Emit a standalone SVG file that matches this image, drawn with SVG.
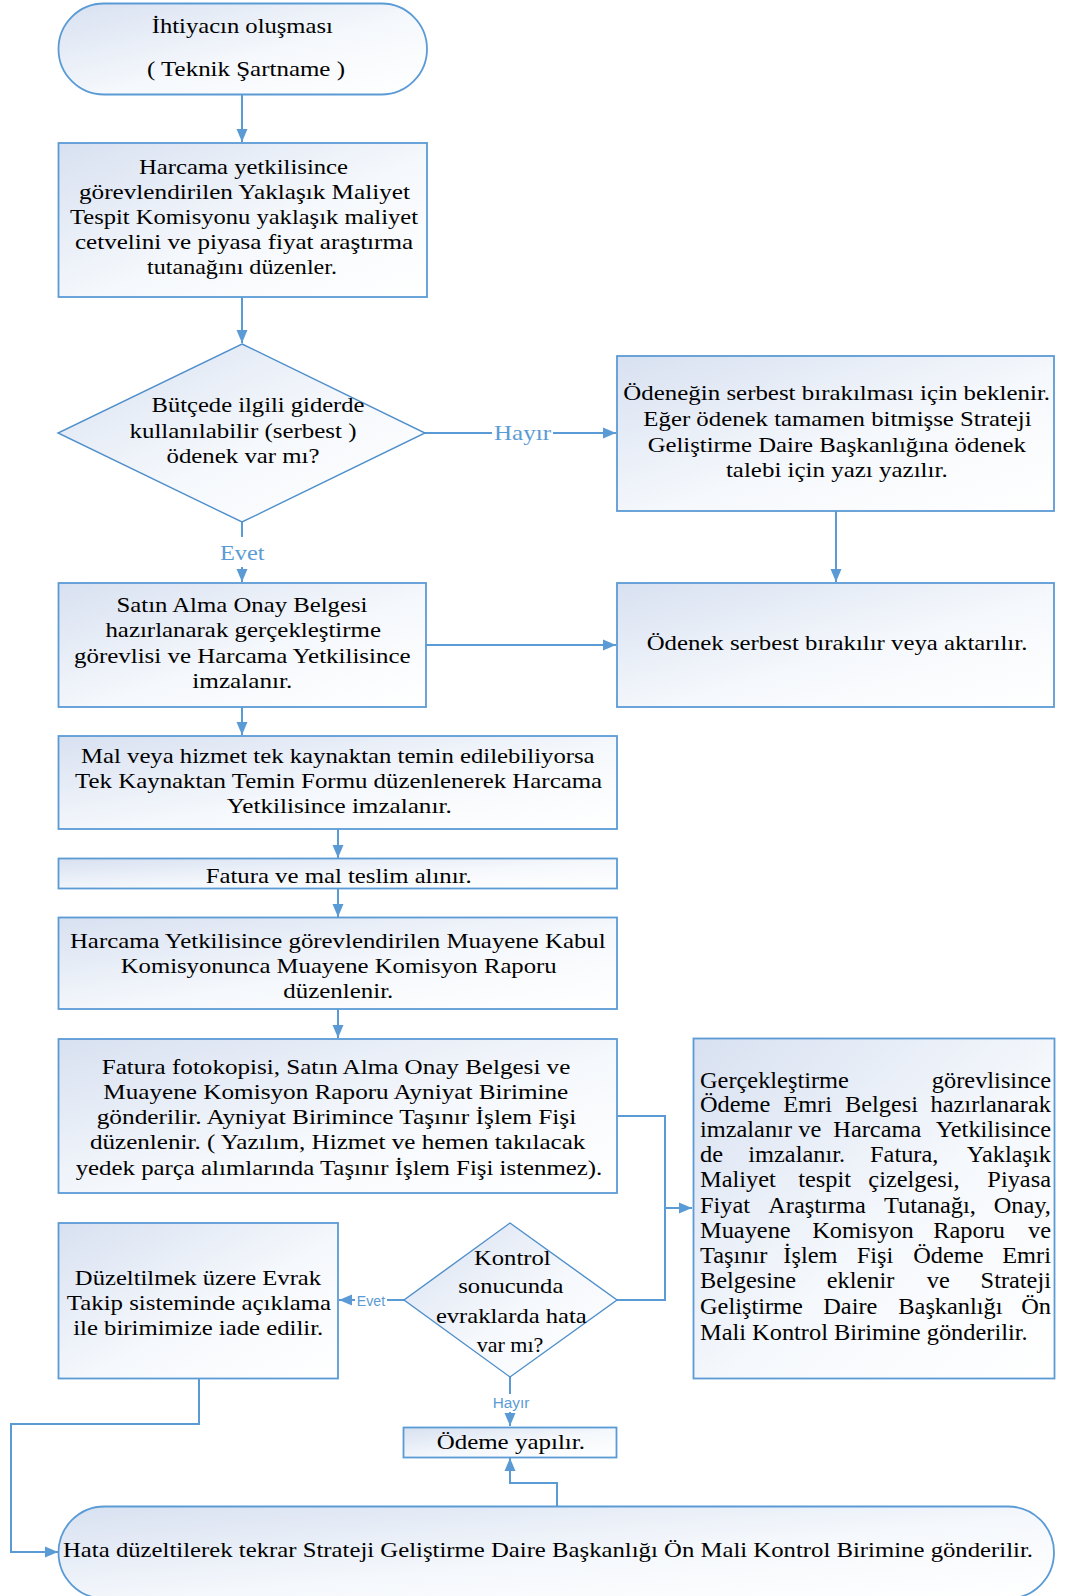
<svg xmlns="http://www.w3.org/2000/svg" width="1067" height="1596" viewBox="0 0 1067 1596">
  <defs>
    <linearGradient id="fillGrad" x1="0" y1="0" x2="1" y2="1">
      <stop offset="0" stop-color="#D8E1F1"/>
      <stop offset="0.55" stop-color="#F5F8FC"/>
      <stop offset="1" stop-color="#FFFFFF"/>
    </linearGradient>
    <marker id="arrow" markerUnits="userSpaceOnUse" markerWidth="14" markerHeight="12" refX="13" refY="6" orient="auto">
      <path d="M0,0.5 L13,6 L0,11.5 Z" fill="#5B9BD5"/>
    </marker>
    <style>
      .node { fill: url(#fillGrad); stroke: #5B9BD5; stroke-width: 1.8; }
      .dia { fill: url(#fillGrad); stroke: #4F8FCB; stroke-width: 1.4; }
      .t { font-family: "Liberation Serif", "Times New Roman", serif; font-size: 22px; fill: #000; text-anchor: middle; }
      .tj { font-family: "Liberation Serif", "Times New Roman", serif; font-size: 23px; fill: #000; }
      .conn { fill: none; stroke: #5B9BD5; stroke-width: 2; }
      .arr { marker-end: url(#arrow); }
      .lbl { font-family: "Liberation Serif", "Times New Roman", serif; font-size: 22px; fill: #5B9BD5; text-anchor: middle; }
      .slbl { font-family: "Liberation Sans", Arial, sans-serif; font-size: 14px; fill: #5B9BD5; text-anchor: middle; }
      .bg { fill: #FFFFFF; }
    </style>
  </defs>
  <rect width="1067" height="1596" fill="#FFFFFF"/>

  <!-- connectors -->
  <g id="connectors">
    <path class="conn arr" d="M242,95 V142"/>
    <path class="conn arr" d="M242,297 V343"/>
    <path class="conn arr" d="M424,433 H616"/>
    <path class="conn arr" d="M242,522 V582"/>
    <path class="conn arr" d="M836,511 V582"/>
    <path class="conn arr" d="M426,645 H616"/>
    <path class="conn arr" d="M242,707 V735"/>
    <path class="conn arr" d="M338,829 V858"/>
    <path class="conn arr" d="M338,889 V917"/>
    <path class="conn arr" d="M338,1009 V1038"/>
    <path class="conn arr" d="M617,1116 H665 V1208 H692"/>
    <path class="conn" d="M617,1300 H665 V1208"/>
    <path class="conn arr" d="M404,1300 H339"/>
    <path class="conn arr" d="M510,1377 V1426"/>
    <path class="conn arr" d="M199,1379 V1424 H11 V1552 H58"/>
    <path class="conn arr" d="M557,1506 V1483 H510 V1458"/>

    <!-- branch labels -->
    <rect class="bg" x="492" y="420" width="61" height="26"/>
    <text class="lbl" x="522.5" y="440" textLength="57" lengthAdjust="spacingAndGlyphs">Hayır</text>
    <rect class="bg" x="216" y="537" width="52" height="30"/>
    <text class="lbl" x="242.3" y="560" textLength="44.6" lengthAdjust="spacingAndGlyphs">Evet</text>
    <rect class="bg" x="355" y="1292" width="32" height="18"/>
    <text class="slbl" x="371" y="1306" textLength="28.3" lengthAdjust="spacingAndGlyphs">Evet</text>
    <rect class="bg" x="491" y="1394" width="40" height="18"/>
    <text class="slbl" x="511" y="1408.3" textLength="36.7" lengthAdjust="spacingAndGlyphs">Hayır</text>
  </g>

  <!-- start -->
  <g id="n-ihtiyac">
    <rect class="node" x="58.5" y="3.5" width="368.5" height="91" rx="45.5" ry="45.5"/>
    <text class="t" font-size="20" x="242.3" y="33" textLength="181" lengthAdjust="spacingAndGlyphs">İhtiyacın oluşması</text>
    <text class="t" font-size="20" x="246" y="76" textLength="198" lengthAdjust="spacingAndGlyphs">( Teknik Şartname )</text>
  </g>

  <g id="n-maliyet">
    <rect class="node" x="58.5" y="143" width="368.5" height="154"/>
    <text class="t" font-size="21" x="243.5" y="174" textLength="209" lengthAdjust="spacingAndGlyphs">Harcama yetkilisince</text>
    <text class="t" font-size="21" x="244.5" y="198.5" textLength="331" lengthAdjust="spacingAndGlyphs">görevlendirilen Yaklaşık Maliyet</text>
    <text class="t" font-size="21" x="244" y="223.5" textLength="348" lengthAdjust="spacingAndGlyphs">Tespit Komisyonu yaklaşık maliyet</text>
    <text class="t" font-size="21" x="244" y="249" textLength="338" lengthAdjust="spacingAndGlyphs">cetvelini ve piyasa fiyat araştırma</text>
    <text class="t" font-size="21" x="242" y="274" textLength="190" lengthAdjust="spacingAndGlyphs">tutanağını düzenler.</text>
  </g>

  <g id="n-butce">
    <polygon class="dia" points="242,344 425,433 242,522 58,433"/>
    <text class="t" font-size="21" x="258" y="412" textLength="213" lengthAdjust="spacingAndGlyphs">Bütçede ilgili giderde</text>
    <text class="t" font-size="21" x="243" y="438" textLength="227" lengthAdjust="spacingAndGlyphs">kullanılabilir (serbest )</text>
    <text class="t" font-size="21" x="243" y="463" textLength="153" lengthAdjust="spacingAndGlyphs">ödenek var mı?</text>
  </g>

  <g id="n-bekle">
    <rect class="node" x="617" y="356" width="437" height="155"/>
    <text class="t" x="836.7" y="400" textLength="426.7" lengthAdjust="spacingAndGlyphs">Ödeneğin serbest bırakılması için beklenir.</text>
    <text class="t" x="837.5" y="426" textLength="388.3" lengthAdjust="spacingAndGlyphs">Eğer ödenek tamamen bitmişse Strateji</text>
    <text class="t" x="836.8" y="451.5" textLength="378.3" lengthAdjust="spacingAndGlyphs">Geliştirme Daire Başkanlığına ödenek</text>
    <text class="t" x="836.8" y="476.7" textLength="221.7" lengthAdjust="spacingAndGlyphs">talebi için yazı yazılır.</text>
  </g>

  <g id="n-onay">
    <rect class="node" x="58.5" y="583" width="367.5" height="124"/>
    <text class="t" x="242" y="611.5" textLength="251" lengthAdjust="spacingAndGlyphs">Satın Alma Onay Belgesi</text>
    <text class="t" x="243.2" y="637" textLength="275.5" lengthAdjust="spacingAndGlyphs">hazırlanarak gerçekleştirme</text>
    <text class="t" x="242.3" y="662.5" textLength="336.7" lengthAdjust="spacingAndGlyphs">görevlisi ve Harcama Yetkilisince</text>
    <text class="t" x="242.3" y="688" textLength="100" lengthAdjust="spacingAndGlyphs">imzalanır.</text>
  </g>

  <g id="n-aktar">
    <rect class="node" x="617" y="583" width="437" height="124"/>
    <text class="t" x="837" y="650" textLength="380.7" lengthAdjust="spacingAndGlyphs">Ödenek serbest bırakılır veya aktarılır.</text>
  </g>

  <g id="n-tekkaynak">
    <rect class="node" x="58.5" y="736" width="558.5" height="93"/>
    <text class="t" font-size="22.5" x="337.8" y="762.7" textLength="513.6" lengthAdjust="spacingAndGlyphs">Mal veya hizmet tek kaynaktan temin edilebiliyorsa</text>
    <text class="t" font-size="22.5" x="338.6" y="788.3" textLength="527" lengthAdjust="spacingAndGlyphs">Tek Kaynaktan Temin Formu düzenlenerek Harcama</text>
    <text class="t" font-size="22.5" x="339.2" y="813.3" textLength="225" lengthAdjust="spacingAndGlyphs">Yetkilisince imzalanır.</text>
  </g>

  <g id="n-teslim">
    <rect class="node" x="58.5" y="858.5" width="558.5" height="30"/>
    <text class="t" font-size="23" x="338.7" y="883.3" textLength="266" lengthAdjust="spacingAndGlyphs">Fatura ve mal teslim alınır.</text>
  </g>

  <g id="n-muayene">
    <rect class="node" x="58.5" y="917.5" width="558.5" height="91.5"/>
    <text class="t" font-size="22.5" x="337.8" y="947.7" textLength="535.7" lengthAdjust="spacingAndGlyphs">Harcama Yetkilisince görevlendirilen Muayene Kabul</text>
    <text class="t" font-size="22.5" x="338.7" y="972.7" textLength="436" lengthAdjust="spacingAndGlyphs">Komisyonunca Muayene Komisyon Raporu</text>
    <text class="t" font-size="22.5" x="338.3" y="997.7" textLength="110" lengthAdjust="spacingAndGlyphs">düzenlenir.</text>
  </g>

  <g id="n-ayniyat">
    <rect class="node" x="58.5" y="1039" width="558.5" height="154"/>
    <text class="t" x="336" y="1074" textLength="468.6" lengthAdjust="spacingAndGlyphs">Fatura fotokopisi, Satın Alma Onay Belgesi ve</text>
    <text class="t" x="335.8" y="1099.3" textLength="465" lengthAdjust="spacingAndGlyphs">Muayene Komisyon Raporu Ayniyat Birimine</text>
    <text class="t" x="336.5" y="1124.3" textLength="479.6" lengthAdjust="spacingAndGlyphs">gönderilir. Ayniyat Birimince Taşınır İşlem Fişi</text>
    <text class="t" x="337.7" y="1149.3" textLength="495.5" lengthAdjust="spacingAndGlyphs">düzenlenir. ( Yazılım, Hizmet ve hemen takılacak</text>
    <text class="t" x="339" y="1175" textLength="526.7" lengthAdjust="spacingAndGlyphs">yedek parça alımlarında Taşınır İşlem Fişi istenmez).</text>
  </g>

  <g id="n-odeme-emri">
    <rect class="node" x="693.5" y="1038.5" width="361" height="340"/>
    <g transform="translate(700 0) scale(1.06 1)">
      <text class="tj" y="1088.3"><tspan x="0">Gerçekleştirme</tspan><tspan x="331.1" text-anchor="end">görevlisince</tspan></text>
      <text class="tj" y="1111.7"><tspan x="0">Ödeme</tspan><tspan x="78.6">Emri</tspan><tspan x="136.8">Belgesi</tspan><tspan x="331.1" text-anchor="end">hazırlanarak</tspan></text>
      <text class="tj" y="1136.7"><tspan x="0">imzalanır</tspan><tspan x="92.7">ve</tspan><tspan x="125.8">Harcama</tspan><tspan x="331.1" text-anchor="end">Yetkilisince</tspan></text>
      <text class="tj" y="1161.7"><tspan x="0">de</tspan><tspan x="45.6">imzalanır.</tspan><tspan x="160.4">Fatura,</tspan><tspan x="331.1" text-anchor="end">Yaklaşık</tspan></text>
      <text class="tj" y="1186.7"><tspan x="0">Maliyet</tspan><tspan x="92.7">tespit</tspan><tspan x="158.8">çizelgesi,</tspan><tspan x="331.1" text-anchor="end">Piyasa</tspan></text>
      <text class="tj" y="1213"><tspan x="0">Fiyat</tspan><tspan x="64.4">Araştırma</tspan><tspan x="173.6">Tutanağı,</tspan><tspan x="331.1" text-anchor="end">Onay,</tspan></text>
      <text class="tj" y="1238.3"><tspan x="0">Muayene</tspan><tspan x="105.9">Komisyon</tspan><tspan x="220.1">Raporu</tspan><tspan x="331.1" text-anchor="end">ve</tspan></text>
      <text class="tj" y="1263.3"><tspan x="0">Taşınır</tspan><tspan x="78.6">İşlem</tspan><tspan x="147.8">Fişi</tspan><tspan x="201.2">Ödeme</tspan><tspan x="331.1" text-anchor="end">Emri</tspan></text>
      <text class="tj" y="1288.5"><tspan x="0">Belgesine</tspan><tspan x="119.5">eklenir</tspan><tspan x="213.9">ve</tspan><tspan x="331.1" text-anchor="end">Strateji</tspan></text>
      <text class="tj" y="1314.5"><tspan x="0">Geliştirme</tspan><tspan x="116.3">Daire</tspan><tspan x="187.1">Başkanlığı</tspan><tspan x="331.1" text-anchor="end">Ön</tspan></text>
      <text class="tj" y="1340" x="0">Mali Kontrol Birimine gönderilir.</text>
    </g>
  </g>

  <g id="n-kontrol">
    <polygon class="dia" points="510,1223 617,1300 510,1377 404,1300"/>
    <text class="t" x="512.3" y="1265" textLength="76.7" lengthAdjust="spacingAndGlyphs">Kontrol</text>
    <text class="t" x="510.8" y="1293.3" textLength="105" lengthAdjust="spacingAndGlyphs">sonucunda</text>
    <text class="t" x="511.3" y="1322.7" textLength="150.7" lengthAdjust="spacingAndGlyphs">evraklarda hata</text>
    <text class="t" x="510" y="1351.7" textLength="66.7" lengthAdjust="spacingAndGlyphs">var mı?</text>
  </g>

  <g id="n-iade">
    <rect class="node" x="58.5" y="1223" width="279.5" height="155.5"/>
    <text class="t" x="198" y="1285" textLength="246.3" lengthAdjust="spacingAndGlyphs">Düzeltilmek üzere Evrak</text>
    <text class="t" x="199" y="1310" textLength="264.3" lengthAdjust="spacingAndGlyphs">Takip sisteminde açıklama</text>
    <text class="t" x="198.2" y="1335" textLength="250" lengthAdjust="spacingAndGlyphs">ile birimimize iade edilir.</text>
  </g>

  <g id="n-odeme">
    <rect class="node" x="403.5" y="1427.5" width="213" height="30"/>
    <text class="t" font-size="23" x="510.8" y="1449.3" textLength="148.3" lengthAdjust="spacingAndGlyphs">Ödeme yapılır.</text>
  </g>

  <g id="n-duzeltme">
    <rect class="node" x="58.5" y="1506.5" width="995.5" height="92" rx="46" ry="46"/>
    <text class="t" font-size="23" x="548" y="1557" textLength="970" lengthAdjust="spacingAndGlyphs">Hata düzeltilerek tekrar Strateji Geliştirme Daire Başkanlığı Ön Mali Kontrol Birimine gönderilir.</text>
  </g>
</svg>
